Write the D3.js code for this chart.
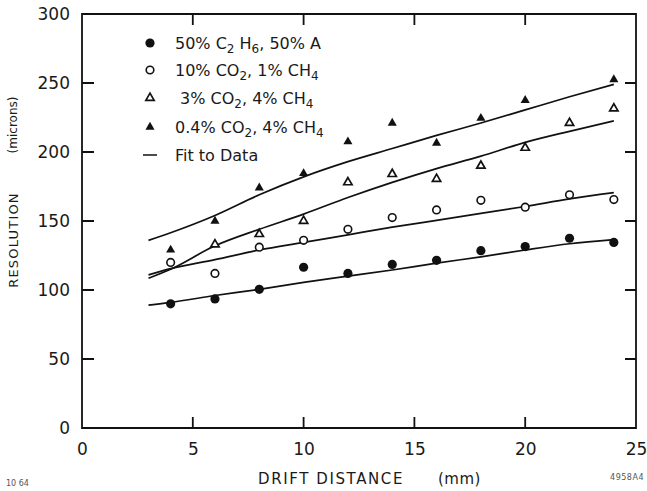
<!DOCTYPE html>
<html>
<head>
<meta charset="utf-8">
<script src="https://cdn.jsdelivr.net/npm/d3@7"></script>
<style>
  body { margin: 0; background: #fff; }
  text { font-family: "DejaVu Sans", sans-serif; fill: #1a1a1a; }
</style>
</head>
<body>
<div id="chart"></div>
<script>
// Données
const distance = [4, 6, 8, 10, 12, 14, 16, 18, 20, 22, 24];
const ethane50 = [90, 93.5, 100.5, 116.5, 112, 118.5, 121.5, 128.5, 131.5, 137.5, 134.5];
const co2_10 = [120, 112, 131, 136, 144, 152.5, 158, 165, 160, 169, 165.5];
const co2_3 = [null, 133, 140.5, 150, 178, 184, 180.5, 190, 203, 221, 231.5];
const co2_04 = [129, 150, 174, 184.5, 207.5, 221, 206.5, 224.5, 237.5, null, 252.5];

const fitDistance = [3, 4, 6, 8, 10, 12, 14, 16, 18, 20, 22, 24];
const fitEthane50 = [89, 91, 96, 100.5, 105.5, 110, 114.5, 119.5, 124, 129, 133.5, 136.5];
const fitCo2_10 = [111, 115.5, 122, 129, 134.5, 140, 145.5, 150.5, 155.5, 160.5, 166, 170.5];
const fitCo2_3 = [108.5, 115, 132, 144, 155, 167, 178, 188, 197, 207, 215, 222.5];
const fitCo2_04 = [136, 141.5, 154, 169, 182, 193, 202.5, 212, 221, 230.5, 240, 249];

const xTicks = [0, 5, 10, 15, 20, 25];
const yTicks = [0, 50, 100, 150, 200, 250, 300];

const series = [
  { values: ethane50, fit: fitEthane50, marker: "dot" },
  { values: co2_10, fit: fitCo2_10, marker: "ring" },
  { values: co2_3, fit: fitCo2_3, marker: "openTri" },
  { values: co2_04, fit: fitCo2_04, marker: "tri" }
];

const width = 647, height = 491;
const plotLeft = 82, plotRight = 636, plotTop = 14, plotBottom = 428;

const svg = d3.select("#chart").append("svg")
  .attr("width", width)
  .attr("height", height);

const x = d3.scaleLinear().domain([0, 25]).range([plotLeft, plotRight]);
const y = d3.scaleLinear().domain([0, 300]).range([plotBottom, plotTop]);

// Étiquettes des axes (les traits viennent après)
function styleAxis(g) {
  g.select(".domain").remove();
  g.selectAll(".tick line").remove();
  g.selectAll(".tick text")
    .attr("font-family", "DejaVu Sans, sans-serif")
    .style("font-size", "17px")
    .attr("fill", "#1a1a1a");
}

svg.append("g")
  .attr("transform", "translate(0," + plotBottom + ")")
  .call(d3.axisBottom(x).tickValues(xTicks).tickSize(0).tickPadding(15))
  .call(styleAxis);

svg.append("g")
  .attr("transform", "translate(" + plotLeft + ",0)")
  .call(d3.axisLeft(y).tickValues(yTicks).tickSize(0).tickPadding(12))
  .call(styleAxis);

// Cadre + graduations intérieures, en un seul tracé
const innerX = xTicks.filter(d => d > 0 && d < 25);
const innerY = yTicks.filter(d => d > 0 && d < 300);
const tickLen = 11;
const frame = d3.path();
frame.rect(plotLeft, plotTop, plotRight - plotLeft, plotBottom - plotTop);
innerX.forEach(d => {
  frame.moveTo(x(d), plotBottom); frame.lineTo(x(d), plotBottom - tickLen);
  frame.moveTo(x(d), plotTop); frame.lineTo(x(d), plotTop + tickLen);
});
innerY.forEach(d => {
  frame.moveTo(plotLeft, y(d)); frame.lineTo(plotLeft + tickLen + 1, y(d));
  frame.moveTo(plotRight, y(d)); frame.lineTo(plotRight - tickLen, y(d));
});
svg.append("path")
  .attr("d", frame.toString())
  .attr("fill", "none")
  .attr("stroke", "#111")
  .attr("stroke-width", 1.8);

// Titres
svg.append("text")
  .attr("x", 258).attr("y", 484)
  .style("font-size", "15px").style("letter-spacing", "1.6px")
  .text("DRIFT DISTANCE");
svg.append("text")
  .attr("x", 438).attr("y", 484)
  .style("font-size", "15px").style("letter-spacing", "0.5px")
  .text("(mm)");

svg.append("text")
  .attr("transform", "translate(18,240) rotate(-90)")
  .attr("text-anchor", "middle")
  .style("font-size", "13px").style("letter-spacing", "1.2px")
  .text("RESOLUTION");
svg.append("text")
  .attr("transform", "translate(17,125) rotate(-90)")
  .attr("text-anchor", "middle")
  .style("font-size", "12px")
  .text("(microns)");

// Courbes d'ajustement
const line = d3.line()
  .x(d => x(d[0]))
  .y(d => y(d[1]))
  .curve(d3.curveMonotoneX);

series.forEach(s => {
  svg.append("path")
    .datum(fitDistance.map((d, i) => [d, s.fit[i]]))
    .attr("d", line)
    .attr("fill", "none")
    .attr("stroke", "#111")
    .attr("stroke-width", 1.7);
});

// Marqueurs
const triSym = d3.symbol().type(d3.symbolTriangle).size(36);
const openTriSym = d3.symbol().type(d3.symbolTriangle).size(30);

function drawMarker(g, type, cx, cy) {
  if (type === "dot") {
    g.append("circle").attr("cx", cx).attr("cy", cy).attr("r", 4.6).attr("fill", "#111");
  } else if (type === "ring") {
    g.append("circle").attr("cx", cx).attr("cy", cy).attr("r", 3.8)
      .attr("fill", "#fff").attr("stroke", "#111").attr("stroke-width", 1.6);
  } else if (type === "openTri") {
    g.append("path").attr("d", openTriSym()).attr("transform", "translate(" + cx + "," + cy + ")")
      .attr("fill", "#fff").attr("stroke", "#111").attr("stroke-width", 1.7);
  } else {
    g.append("path").attr("d", triSym()).attr("transform", "translate(" + cx + "," + cy + ")")
      .attr("fill", "#111");
  }
}

const marks = svg.append("g");
series.forEach(s => {
  distance.forEach((d, i) => {
    if (s.values[i] == null) return;
    drawMarker(marks, s.marker, x(d), y(s.values[i]));
  });
});

// Légende : [texte, indice ?]
const legendRows = [
  { marker: "dot", parts: [["50% C", 0], ["2", 1], [" H", 0], ["6", 1], [", 50% A", 0]] },
  { marker: "ring", parts: [["10% CO", 0], ["2", 1], [", 1% CH", 0], ["4", 1]] },
  { marker: "openTri", parts: [["\u00a03% CO", 0], ["2", 1], [", 4% CH", 0], ["4", 1]] },
  { marker: "tri", parts: [["0.4% CO", 0], ["2", 1], [", 4% CH", 0], ["4", 1]] },
  { marker: "fit", parts: [["Fit to Data", 0]] }
];
const legendY = [43, 70, 98, 127, 155];
const legend = svg.append("g");
legendRows.forEach((row, i) => {
  const ly = legendY[i];
  if (row.marker === "fit") {
    legend.append("line").attr("x1", 143).attr("x2", 157).attr("y1", ly).attr("y2", ly)
      .attr("stroke", "#111").attr("stroke-width", 1.5);
  } else {
    drawMarker(legend, row.marker, 150, ly);
  }
  const t = legend.append("text")
    .attr("x", 175).attr("y", ly + 6)
    .style("font-size", "16px");
  row.parts.forEach((p, j) => {
    const prev = j > 0 ? row.parts[j - 1][1] : 0;
    t.append("tspan")
      .attr("dy", p[1] && !prev ? 4 : (!p[1] && prev ? -4 : 0))
      .style("font-size", p[1] ? "12px" : "16px")
      .text(p[0]);
  });
});

// Références de la figure
svg.append("text").attr("x", 6).attr("y", 486).style("font-size", "8px").style("fill", "#555").text("10  64");
svg.append("text").attr("x", 644).attr("y", 480).attr("text-anchor", "end")
  .style("font-size", "8px").style("fill", "#555").style("letter-spacing", "0.5px").text("4958A4");
</script>
</body>
</html>
